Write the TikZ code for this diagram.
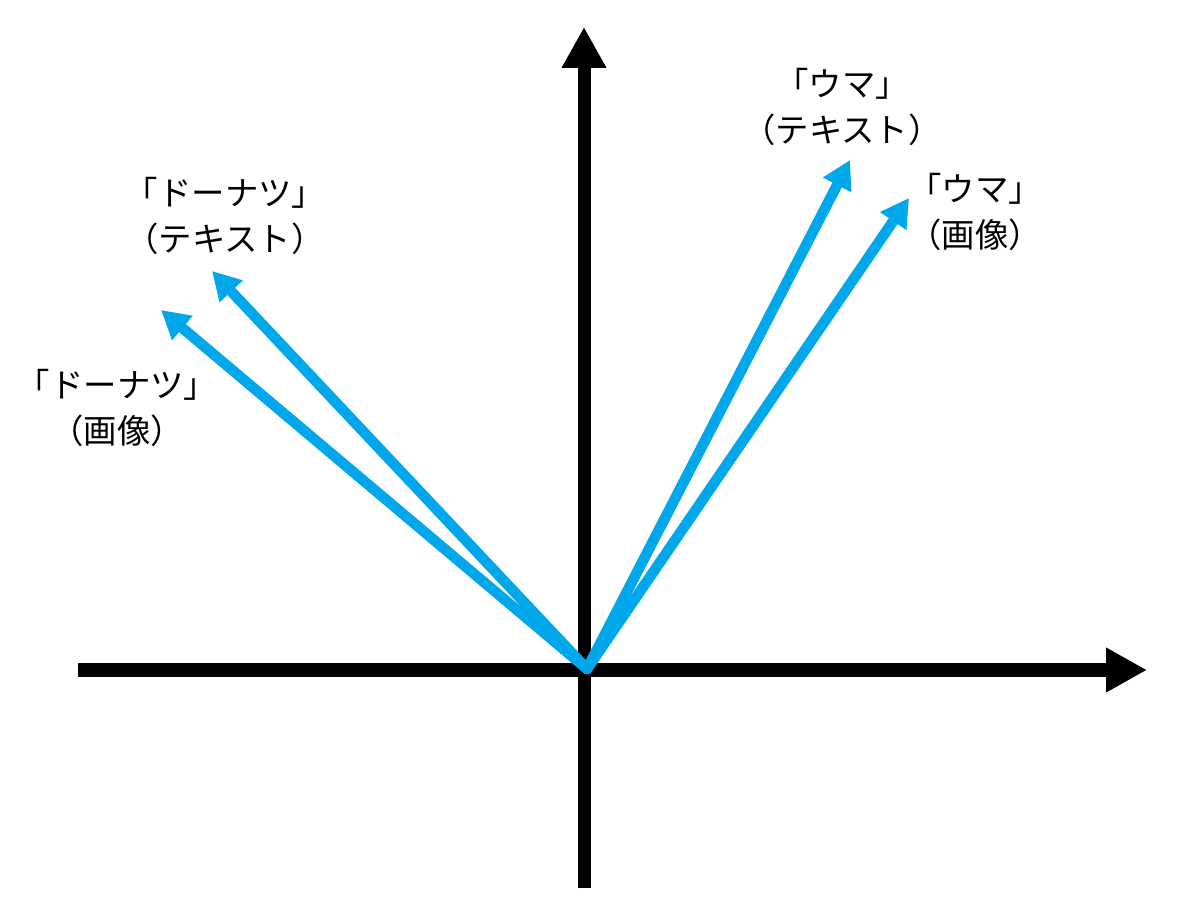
\documentclass[tikz,border=0pt]{standalone}
\usepackage{fontspec}
\newfontfamily\jpfont{Noto Sans CJK JP}
\definecolor{vecblue}{RGB}{0,167,234}
\usetikzlibrary{arrows.meta}

\tikzset{
  axis/.style={line width=7.4pt, black, -{Triangle[length=0.82cm, width=0.84cm]}},
  vec/.style={line width=6pt, vecblue, line cap=round, -{Triangle[length=0.56cm, width=0.6cm]}},
  lbl/.style={align=center, font=\jpfont\fontsize{19}{26}\selectfont, inner sep=0pt}
}

\begin{document}
\begin{tikzpicture}
    \useasboundingbox (0,0) rectangle (24.04,18.18);

    %% Axes
    \coordinate (xL) at (1.56,4.78);
    \coordinate (xR) at (22.94,4.78);
    \coordinate (yB) at (11.68,0.42);
    \coordinate (yT) at (11.68,17.64);
    \draw[axis] (xL) -- (xR);
    \draw[axis] (yB) -- (yT);

    %% Vectors from the origin
    \coordinate (O) at (11.74,4.8);
    \coordinate (donutImg) at (3.22,11.98);
    \coordinate (donutTxt) at (4.24,12.76);
    \coordinate (umaTxt) at (17.0,14.98);
    \coordinate (umaImg) at (18.18,14.22);
    \draw[vec] (O) -- (donutImg);
    \draw[vec] (O) -- (donutTxt);
    \draw[vec] (O) -- (umaTxt);
    \draw[vec] (O) -- (umaImg);

    %% Labels
    \node[lbl] (donutTxtLbl) at (4.5,13.86) {「ドーナツ」\\（テキスト）};
    \node[lbl] (donutImgLbl) at (2.34,10.02) {「ドーナツ」\\（画像）};
    \node[lbl] (umaTxtLbl) at (16.84,16.04) {「ウマ」\\（テキスト）};
    \node[lbl] (umaImgLbl) at (19.5,13.94) {「ウマ」\\（画像）};
\end{tikzpicture}
\end{document}
